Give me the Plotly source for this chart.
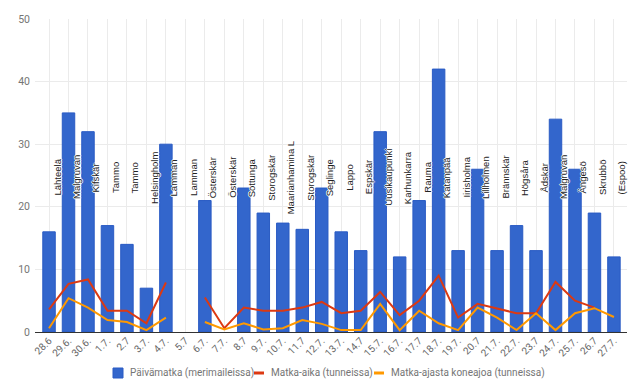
import plotly.graph_objects as go

dates = ["28.6", "29.6.", "30.6.", "1.7.", "2.7", "3.7.", "4.7.", "5.7", "6.7.", "7.7.",
         "8.7", "9.7.", "10.7.", "11.7", "12.7.", "13.7.", "14.7", "15.7.", "16.7.", "17.7",
         "18.7.", "19.7.", "20.7", "21.7.", "22.7.", "23.7", "24.7.", "25.7.", "26.7", "27.7."]
places = ["Lähteelä", "Malgruvan", "Kifskär", "Tammo", "Tammo", "Helsingholm", "Lamman", "Lamman",
          "Österskär", "Österskär", "Sottunga", "Storogskär", "Maarianhamina L", "Storogskär",
          "Seglinge", "Lappo", "Espskär", "Uusikaupunki", "Karhunkarra", "Rauma", "Katanpää",
          "Iirisholma", "Lillholmen", "Brännskär", "Högsåra", "Ådskär", "Malgruvan", "Ängesö",
          "Skrubbö", "(Espoo)"]
distance = [16, 35, 32, 17, 14, 7, 30, None, 21, None,
            23, 19, 17.4, 16.4, 23, 16, 13, 32, 12, 21,
            42, 13, 26, 13, 17, 13, 34, 26, 19, 12]
travel_time = [3.6, 7.7, 8.4, 3.4, 3.4, 1.4, 7.9, None, 5.5, 0.6,
               3.9, 3.4, 3.4, 3.9, 4.8, 3.0, 3.4, 6.4, 2.7, 5.0,
               9.0, 2.3, 4.5, 3.8, 3.0, 3.0, 8.0, 5.0, 3.9, None]
engine_time = [0.6, 5.4, 3.9, 1.9, 1.6, 0.3, 2.3, None, 1.6, 0.4,
               1.4, 0.4, 0.6, 1.9, 1.3, 0.3, 0.3, 4.5, 0.3, 3.4,
               1.4, 0.3, 3.9, 2.3, 0.3, 3.0, 0.3, 3.0, 3.8, 2.4]
yticks = [0, 10, 20, 30, 40, 50]
label_y = 25

names = ["Päivämatka (merimaileissa)", "Matka-aika (tunneissa)", "Matka-ajasta koneajoa (tunneissa)"]
BLUE, RED, ORANGE = "#3366cc", "#dc3912", "#ff9900"

# plot area geometry (pixels)
W, H = 640, 392
ML, MR, MT, MB = 35, 13, 19, 60
PW, PH = W - ML - MR, H - MT - MB


def px(xp):
    return (xp - ML) / PW


def py(yp):
    return (H - MB - yp) / PH


xs = list(range(len(dates)))
fig = go.Figure()
fig.add_trace(go.Bar(x=xs, y=distance, name=names[0], width=0.64,
                     marker=dict(color=BLUE, line=dict(color="#2a5bc4", width=1)),
                     showlegend=False))
fig.add_trace(go.Scatter(x=xs, y=travel_time, mode="lines", name=names[1],
                         line=dict(color=RED, width=2), showlegend=False, connectgaps=False))
fig.add_trace(go.Scatter(x=xs, y=engine_time, mode="lines", name=names[2],
                         line=dict(color=ORANGE, width=2), showlegend=False, connectgaps=False))

halo = "1px 0 0 #fff, -1px 0 0 #fff, 0 1px 0 #fff, 0 -1px 0 #fff"
for i, p in enumerate(places):
    fig.add_annotation(x=xs[i], y=label_y, text=p, textangle=-90, showarrow=False,
                       xanchor="center", yanchor="middle", xshift=8, yshift=-2,
                       font=dict(family="Liberation Sans, Arial", size=9.5, color="#222", shadow=halo))

# manual legend (bottom, centred)
leg_y = 373
swatches = [(113, 123, 10, BLUE), (254, 264, 3, RED), (374, 384, 3, ORANGE)]
text_x = [128, 269, 389]
for (x0, x1, h, c), tx, nm in zip(swatches, text_x, names):
    fig.add_shape(type="rect", xref="paper", yref="paper",
                  x0=px(x0), x1=px(x1), y0=py(leg_y + h / 2), y1=py(leg_y - h / 2),
                  fillcolor=c, line=dict(width=1 if h > 5 else 0, color="#2a5bc4"))
    fig.add_annotation(xref="paper", yref="paper", x=px(tx), y=py(leg_y), text=nm,
                       showarrow=False, xanchor="left", yanchor="middle",
                       font=dict(family="Roboto, Arial", size=10, color="#757575"))

fig.update_layout(
    width=W, height=H,
    margin=dict(l=ML, r=MR, t=MT, b=MB),
    paper_bgcolor="white", plot_bgcolor="white",
    showlegend=False,
    font=dict(family="Roboto, Arial", color="#757575", size=10),
    xaxis=dict(tickmode="array", tickvals=xs, ticktext=dates, tickangle=-45,
               range=[-0.72, 29.67], showgrid=True, gridcolor="#ebebeb", gridwidth=1,
               showline=False, zeroline=False, ticks="", automargin=False,
               tickfont=dict(size=10, color="#666")),
    yaxis=dict(range=[0, 50], tickvals=yticks, showgrid=True, gridcolor="#ebebeb",
               zeroline=True, zerolinecolor="#333", zerolinewidth=1, automargin=False,
               tickfont=dict(size=10.5, color="#757575"), ticklabelstandoff=4),
)
fig.write_html("out.html", config={"displayModeBar": False},
               post_script="document.body.style.margin='0';document.body.style.overflow='hidden';")
